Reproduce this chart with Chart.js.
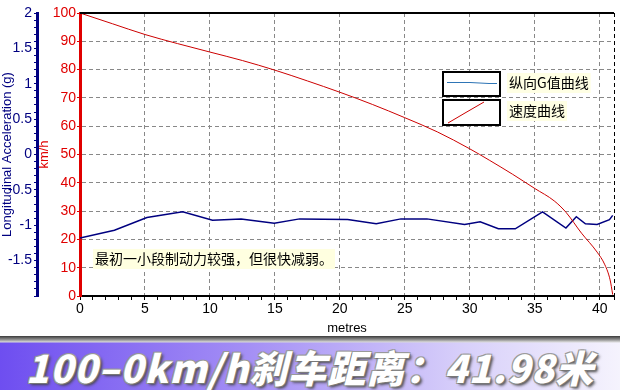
<!doctype html>
<html lang="zh">
  <head>
    <meta charset="utf-8">
    <script src="https://cdn.jsdelivr.net/npm/chart.js"></script>
    <style>
      body { margin: 0; background: #fff; }
      #wrap { width: 620px; height: 336px; position: relative; }
      #banner {
        width: 620px; height: 54px; position: relative;
        background:
          linear-gradient(to bottom, #3a3a3a 0px, #9a9a9a 4px, #d8d8d8 6px, rgba(255,255,255,0) 7px),
          linear-gradient(to right, #6e4ef0 0%, #a48ff5 40%, #d8d0fa 75%, #f5f3fd 100%);
      }
      #banner span {
        position: absolute; left: 0; right: 0; top: 8px; text-align: center;
        font-family: "Noto Sans CJK SC", "DejaVu Sans", sans-serif;
        font-weight: 900; font-style: italic; font-size: 38px; line-height: 46px;
        color: #fff; letter-spacing: 1px;
        text-shadow: 1px 1px 0 #777, -1px -1px 0 #999, 1px -1px 0 #999, -1px 1px 0 #999, 2px 2px 3px #444;
      }
    </style>
  </head>
  <body>
    <div id="wrap"><canvas id="myChart" width="620" height="336"></canvas></div>
    <div id="banner"><span>100–0km/h刹车距离：41.98米</span></div>
    <script>
      // speed curve (km/h against metres)
      const speedDist = [0, 2.5, 5, 7.5, 10, 12.5, 15, 17.5, 20, 22.5, 25, 27.5, 30, 31.5, 33.3, 35, 36.5, 37.4, 38.6, 39.8, 40.4, 40.8, 41.0];
      const speedKmh = [100, 96.2, 92.4, 89.2, 86.2, 83.2, 79.8, 76, 72, 67.7, 63, 58, 52, 48, 43, 38, 33.6, 29.6, 22.2, 15.5, 11, 5.7, 0.5];

      // longitudinal G curve
      const gDist = [0, 2.65, 5.15, 7.9, 10.2, 12.4, 14.95, 16.9, 20.6, 22.8, 24.7, 26.7, 29.6, 30.8, 32.2, 33.5, 35.6, 37.4, 38.2, 38.9, 39.8, 40.75, 41.0];
      const gValues = [-1.18, -1.07, -0.89, -0.81, -0.93, -0.91, -0.97, -0.91, -0.92, -0.98, -0.91, -0.91, -0.99, -0.95, -1.05, -1.05, -0.81, -1.04, -0.88, -0.98, -0.99, -0.92, -0.86];

      const legendLabels = ["纵向G值曲线", "速度曲线"];
      const note = "最初一小段制动力较强，但很快减弱。";
      const xMax = 41.1;

      Chart.defaults.font.family = "'Liberation Sans', Arial, sans-serif";

      const extras = {
        id: "extras",
        afterDraw(chart) {
          const c = chart.ctx, a = chart.chartArea;
          c.save();
          // top frame line
          c.strokeStyle = "#000"; c.lineWidth = 2;
          c.beginPath(); c.moveTo(a.left, a.top); c.lineTo(a.right, a.top); c.stroke();

          // legend boxes
          c.lineWidth = 2;
          c.fillStyle = "#fff";
          c.fillRect(443, 72, 57, 24); c.strokeRect(443, 72, 57, 24);
          c.fillRect(443, 100, 57, 25); c.strokeRect(443, 100, 57, 25);
          c.lineWidth = 1;
          c.strokeStyle = "#2e75b6";
          c.beginPath(); c.moveTo(447, 82.5); c.lineTo(470, 82.5); c.lineTo(489, 83.5); c.lineTo(497, 83.5); c.stroke();
          c.strokeStyle = "#cc0000";
          c.beginPath(); c.moveTo(448, 123); c.lineTo(465, 113); c.lineTo(484, 102); c.stroke();

          c.font = "14px 'Noto Sans CJK SC', sans-serif";
          c.textBaseline = "middle";
          legendLabels.forEach((t, i) => {
            const y = i === 0 ? 83 : 111;
            const w = c.measureText(t).width;
            c.fillStyle = "#ffffe4";
            c.fillRect(507, y - 10, w + 4, 20);
            c.fillStyle = "#000";
            c.fillText(t, 509, y);
          });

          // note
          const nw = c.measureText(note).width;
          c.fillStyle = "#ffffe0";
          c.fillRect(93, 249, nw + 4, 20);
          c.fillStyle = "#000";
          c.fillText(note, 95, 259);
          c.restore();
        }
      };

      const ctx = document.getElementById("myChart");
      const myChart = new Chart(ctx, {
        type: "line",
        data: {
          datasets: [
            {
              label: legendLabels[1],
              data: speedDist.map((d, i) => ({ x: d, y: speedKmh[i] })),
              yAxisID: "y",
              borderColor: "#cc0000",
              borderWidth: 1,
              pointRadius: 0,
              cubicInterpolationMode: "monotone",
            },
            {
              label: legendLabels[0],
              data: gDist.map((d, i) => ({ x: d, y: gValues[i] })),
              yAxisID: "g",
              borderColor: "#000080",
              borderWidth: 1.5,
              pointRadius: 0,
              tension: 0,
            },
          ],
        },
        options: {
          responsive: false,
          animation: false,
          devicePixelRatio: 1,
          layout: { padding: { top: 13, right: 6, left: 0, bottom: 0 } },
          plugins: { legend: { display: false }, tooltip: { enabled: false } },
          scales: {
            x: {
              type: "linear",
              min: 0,
              max: xMax,
              afterFit: (s) => { s.height = 40; },
              ticks: {
                stepSize: 1,
                autoSkip: false,
                maxRotation: 0,
                color: "#000",
                font: { size: 14 },
                padding: 1,
                callback: (v) => (Math.abs(v % 5) < 1e-6 ? v : ""),
              },
              grid: {
                color: (c) => {
                  if (!c.tick) return "transparent";
                  if (Math.abs(c.tick.value - xMax) < 0.01) return "#000";
                  return Math.abs(c.tick.value % 5) < 1e-6 && c.tick.value > 0 ? "#888" : "transparent";
                },
                tickColor: "#000",
                tickLength: 4,
              },
              border: { color: "#000", width: 2, dash: [4, 3] },
              title: { display: true, text: "metres", color: "#000", font: { size: 13 }, padding: { top: 0, bottom: 0 } },
            },
            y: {
              position: "left",
              weight: 0,
              min: 0,
              max: 100,
              afterFit: (s) => { s.width = 43; },
              ticks: { stepSize: 10, color: "#e00000", font: { size: 14 }, padding: 1 },
              grid: {
                color: (c) => (c.tick && c.tick.value > 0 && c.tick.value < 100 ? "#888" : "transparent"),
                tickColor: "#e00000",
                tickLength: 3,
              },
              border: { color: "#e00000", width: 3, dash: [4, 3] },
              title: { display: true, text: "km/h", color: "#e00000", font: { size: 13 }, padding: { top: 0, bottom: 0 } },
            },
            g: {
              position: "left",
              weight: 10,
              min: -2,
              max: 2,
              afterFit: (s) => { s.width = 37; },
              ticks: {
                stepSize: 0.1,
                autoSkip: false,
                color: "#000080",
                font: { size: 14 },
                padding: 2,
                callback: (v) => {
                  const r = Math.round(v * 10);
                  if (r === -20) return "";
                  return r % 5 === 0 ? String(r / 10) : "";
                },
              },
              grid: { drawOnChartArea: false, tickColor: "#000080", tickLength: 3 },
              border: { color: "#000080", width: 3 },
              title: { display: true, text: "Longitudinal Acceleration (g)", color: "#000080", font: { size: 13 }, padding: { top: 0, bottom: 0 } },
            },
          },
        },
        plugins: [extras],
      });
    </script>
  </body>
</html>
